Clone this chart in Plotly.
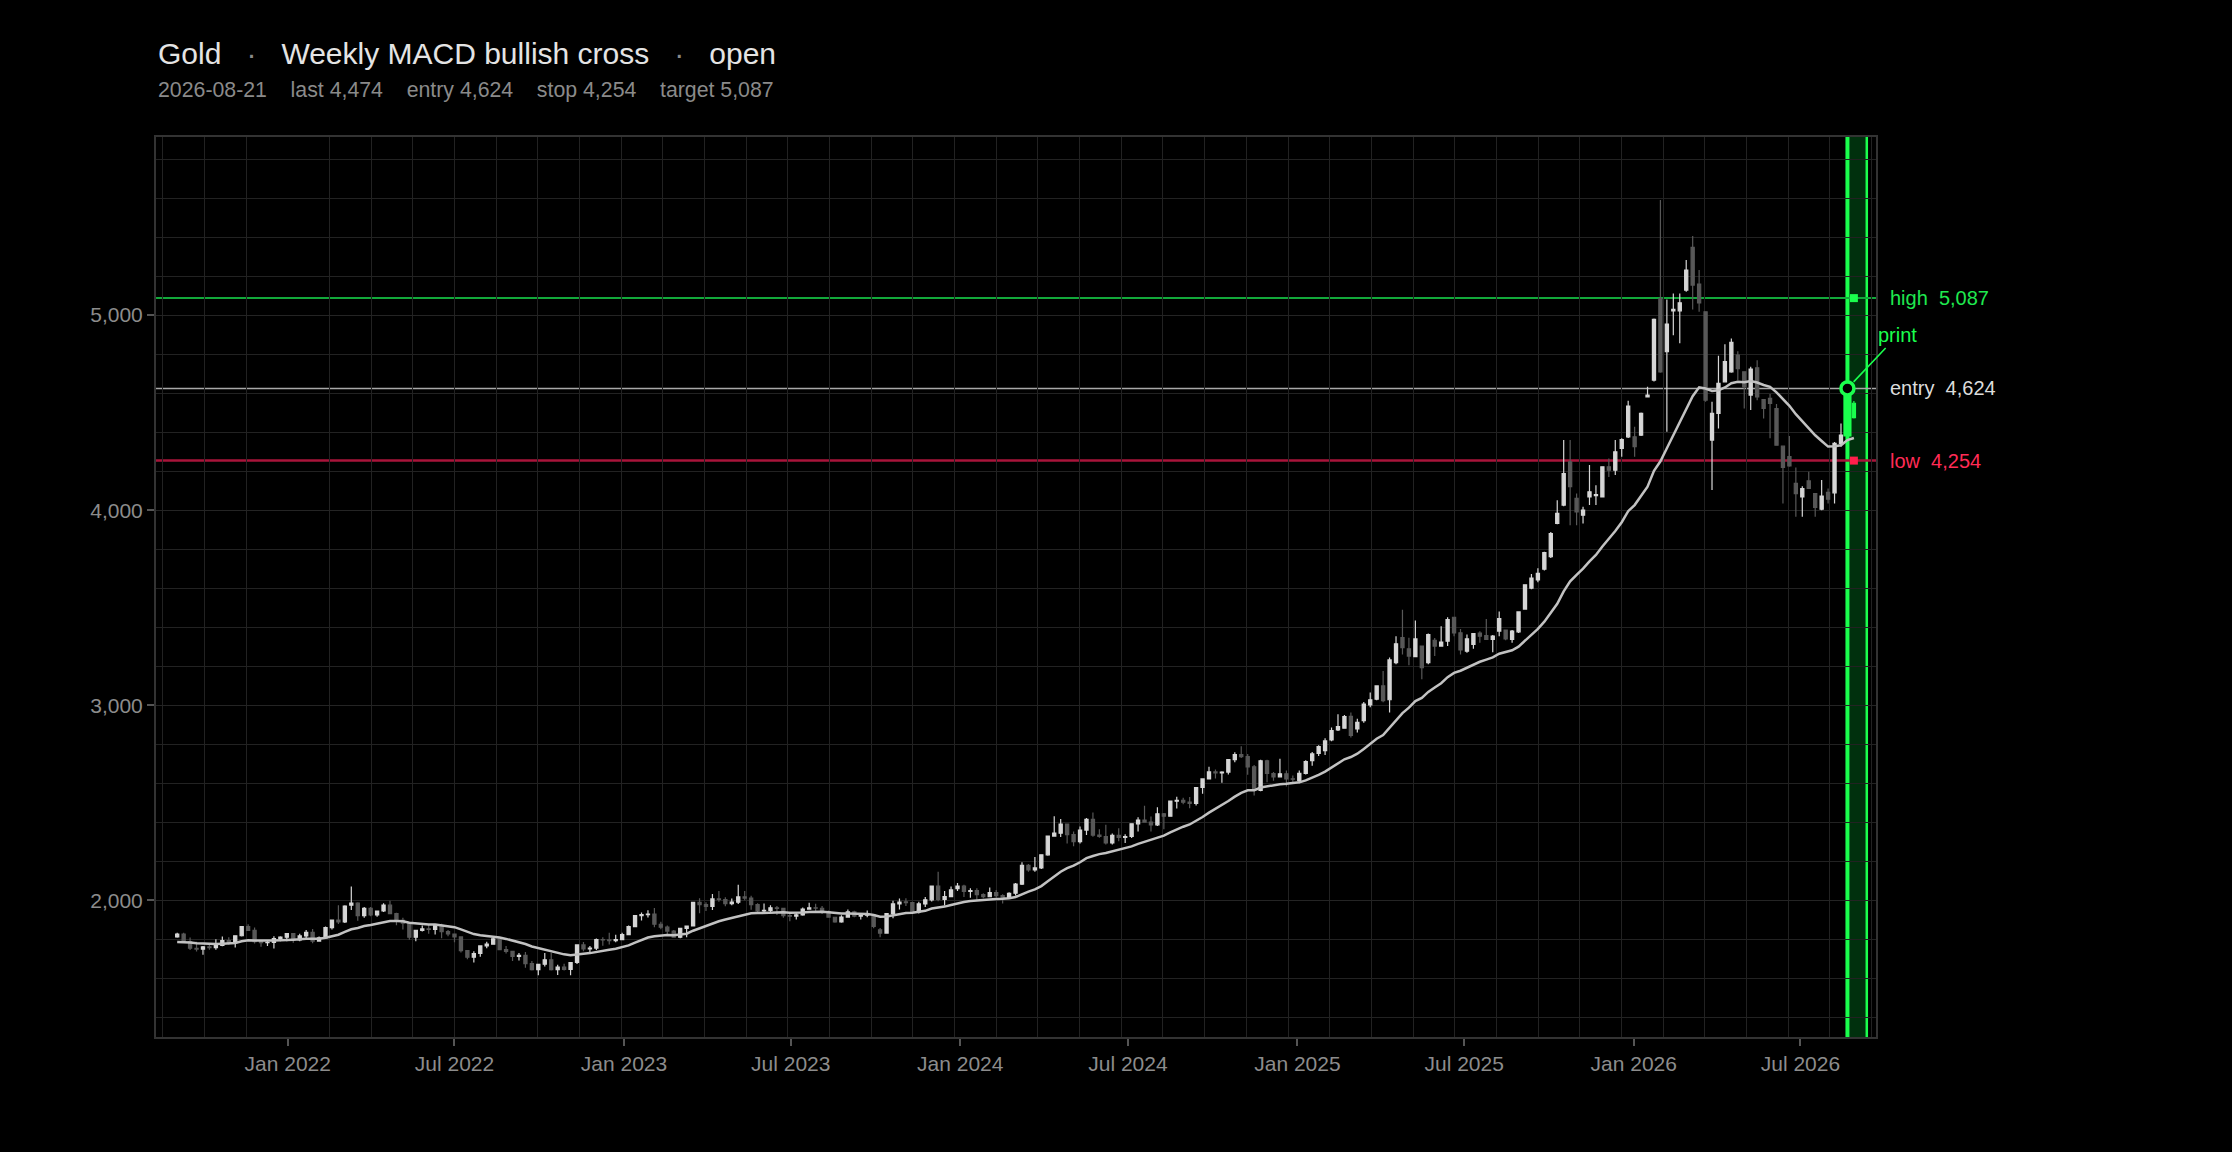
import pandas as pd
import plotly.graph_objects as go

# Weekly gold bars (Friday closes), first bar 2021-09-03, last bar 2026-08-28
first_week = "2021-09-03"

opens = [
    # 2021
    1812, 1827, 1788, 1754, 1750, 1761, 1757, 1768, 1793, 1783, 1818, 1865, 1846, 1788, 1783, 1784, 1804, 1811,
    # 2022
    1829, 1797, 1817, 1835, 1791, 1807, 1860, 1898, 1889, 1975, 1985, 1921, 1958, 1925, 1945, 1975, 1932, 1897,
    1883, 1811, 1846, 1853, 1850, 1871, 1839, 1827, 1812, 1742, 1708, 1727, 1766, 1775, 1802, 1747, 1738, 1712,
    1717, 1675, 1644, 1672, 1695, 1644, 1657, 1645, 1681, 1771, 1751, 1755, 1798, 1797, 1793, 1798,
    # 2023
    1824, 1865, 1921, 1926, 1929, 1877, 1862, 1842, 1811, 1856, 1868, 1989, 1978, 1969, 2007, 2004, 1983, 1990,
    2017, 2011, 1978, 1946, 1948, 1961, 1958, 1921, 1919, 1925, 1955, 1961, 1959, 1942, 1913, 1889, 1914, 1940,
    1919, 1924, 1925, 1848, 1832, 1932, 1981, 1992, 1988, 1940, 1981, 2002, 2072, 2004, 2019, 2060,
    # 2024
    2072, 2045, 2049, 2029, 2018, 2039, 2024, 2013, 2036, 2083, 2179, 2156, 2166, 2233, 2329, 2344, 2391, 2337,
    2301, 2360, 2415, 2334, 2327, 2294, 2333, 2322, 2327, 2392, 2411, 2401, 2387, 2443, 2431, 2508, 2512, 2503,
    2497, 2578, 2622, 2658, 2653, 2657, 2721, 2747, 2736, 2684, 2563, 2715, 2650, 2633, 2648, 2622,
    # 2025
    2614, 2651, 2716, 2753, 2767, 2822, 2873, 2882, 2943, 2878, 2921, 3001, 3031, 3099, 3028, 3218, 3346, 3289,
    3249, 3303, 3218, 3333, 3303, 3328, 3451, 3371, 3277, 3312, 3370, 3357, 3337, 3380, 3385, 3337, 3376, 3493,
    3600, 3642, 3697, 3761, 3932, 4026, 4248, 4060, 3974, 4068, 4074, 4068, 4222, 4205, 4316, 4376,
    # 2026
    4376, 4385, 4581, 4667, 5085, 4812, 5022, 5022, 5128, 5347, 5159, 5017, 4359, 4496, 4658, 4709, 4795, 4709,
    4590, 4730, 4567, 4573, 4521, 4328, 4274, 4137, 4068, 4150, 4085, 4005, 4091, 4089, 4342, 4391, 4548,
]

highs = [
    # 2021
    1834, 1834, 1809, 1787, 1765, 1781, 1800, 1814, 1810, 1818, 1868, 1877, 1860, 1792, 1792, 1815, 1815, 1831,
    # 2022
    1830, 1828, 1848, 1853, 1814, 1865, 1902, 1974, 1974, 2070, 1990, 1966, 1966, 1948, 1985, 1998, 1936, 1910,
    1885, 1849, 1870, 1874, 1877, 1879, 1847, 1830, 1814, 1745, 1739, 1767, 1787, 1807, 1802, 1765, 1740, 1730,
    1735, 1688, 1675, 1730, 1730, 1670, 1675, 1682, 1775, 1786, 1765, 1804, 1810, 1834, 1823, 1833,
    # 2023
    1870, 1922, 1937, 1949, 1960, 1890, 1870, 1848, 1858, 1870, 1989, 2010, 1990, 2032, 2048, 2015, 2009, 2079,
    2048, 2023, 1985, 1983, 1975, 1971, 1959, 1930, 1935, 1963, 1987, 1982, 1970, 1948, 1916, 1923, 1953, 1946,
    1933, 1947, 1927, 1858, 1933, 1997, 2009, 2010, 1992, 1993, 2017, 2075, 2146, 2047, 2070, 2088,
    # 2024
    2079, 2062, 2062, 2036, 2065, 2052, 2031, 2041, 2088, 2195, 2186, 2222, 2236, 2330, 2431, 2417, 2392, 2352,
    2378, 2422, 2450, 2364, 2387, 2342, 2369, 2339, 2392, 2425, 2484, 2429, 2477, 2448, 2509, 2531, 2525, 2529,
    2579, 2626, 2685, 2670, 2661, 2722, 2759, 2790, 2750, 2694, 2721, 2721, 2658, 2726, 2665, 2639,
    # 2025
    2665, 2718, 2760, 2795, 2830, 2886, 2954, 2950, 2963, 2930, 3017, 3065, 3100, 3176, 3245, 3354, 3490, 3346,
    3434, 3303, 3368, 3345, 3405, 3451, 3452, 3391, 3362, 3367, 3379, 3442, 3360, 3481, 3388, 3385, 3480, 3620,
    3673, 3702, 3787, 3888, 4051, 4359, 4359, 4085, 4017, 4231, 4128, 4225, 4265, 4359, 4368, 4561,
    # 2026
    4427, 4500, 4632, 4983, 5590, 5080, 5111, 5111, 5282, 5405, 5231, 5020, 4556, 4791, 4851, 4880, 4815, 4712,
    4735, 4769, 4570, 4595, 4544, 4330, 4380, 4219, 4123, 4197, 4088, 4154, 4111, 4350, 4444, 4624, 4560,
]

lows = [
    # 2021
    1808, 1782, 1745, 1737, 1721, 1746, 1746, 1764, 1772, 1758, 1814, 1843, 1778, 1762, 1766, 1753, 1790, 1790,
    # 2022
    1782, 1790, 1806, 1780, 1788, 1805, 1850, 1878, 1883, 1950, 1895, 1910, 1918, 1915, 1940, 1930, 1872, 1850,
    1798, 1790, 1840, 1828, 1825, 1805, 1816, 1785, 1732, 1697, 1681, 1711, 1754, 1772, 1745, 1727, 1688, 1691,
    1654, 1640, 1615, 1660, 1640, 1617, 1640, 1616, 1673, 1739, 1733, 1745, 1767, 1773, 1785, 1795,
    # 2023
    1822, 1862, 1896, 1912, 1862, 1852, 1818, 1809, 1805, 1810, 1866, 1934, 1945, 1950, 1992, 1969, 1974, 1981,
    2000, 1952, 1936, 1932, 1940, 1925, 1910, 1893, 1902, 1921, 1955, 1942, 1929, 1910, 1885, 1885, 1912, 1913,
    1901, 1913, 1857, 1810, 1832, 1908, 1953, 1970, 1931, 1932, 1965, 1994, 1995, 1973, 2016, 2047,
    # 2024
    2017, 2013, 2002, 2010, 2016, 2015, 1984, 2009, 2024, 2078, 2146, 2146, 2160, 2228, 2325, 2324, 2291, 2277,
    2291, 2334, 2325, 2320, 2286, 2286, 2302, 2293, 2319, 2352, 2398, 2353, 2381, 2364, 2430, 2471, 2492, 2472,
    2486, 2546, 2620, 2624, 2603, 2645, 2708, 2729, 2643, 2537, 2559, 2605, 2613, 2630, 2583, 2601,
    # 2025
    2600, 2645, 2690, 2740, 2745, 2815, 2868, 2880, 2835, 2860, 2910, 2990, 3025, 3015, 2963, 3210, 3260, 3205,
    3249, 3133, 3210, 3252, 3300, 3303, 3354, 3260, 3269, 3290, 3320, 3335, 3272, 3354, 3333, 3320, 3370, 3490,
    3595, 3630, 3690, 3755, 3928, 4020, 3923, 3923, 3932, 4026, 4026, 4065, 4170, 4180, 4274, 4370,
    # 2026
    4274, 4380, 4578, 4660, 4704, 4402, 4897, 4855, 5120, 5029, 5017, 4556, 4103, 4419, 4655, 4705, 4667, 4521,
    4513, 4564, 4470, 4368, 4330, 4034, 4222, 3966, 3966, 4108, 3966, 4000, 4034, 4034, 4325, 4385, 4470,
]

closes = [
    # 2021
    1827, 1788, 1754, 1750, 1761, 1757, 1768, 1793, 1783, 1818, 1865, 1846, 1788, 1783, 1784, 1804, 1811, 1829,
    # 2022
    1797, 1817, 1835, 1791, 1807, 1860, 1898, 1889, 1970, 1985, 1921, 1958, 1925, 1945, 1975, 1932, 1897, 1883,
    1811, 1846, 1853, 1850, 1871, 1839, 1827, 1812, 1742, 1708, 1727, 1766, 1775, 1802, 1747, 1738, 1712, 1717,
    1675, 1644, 1672, 1695, 1644, 1657, 1645, 1681, 1771, 1751, 1755, 1798, 1797, 1793, 1798, 1824,
    # 2023
    1865, 1921, 1926, 1929, 1877, 1862, 1842, 1811, 1856, 1868, 1989, 1978, 1969, 2007, 2004, 1983, 1990, 2017,
    2011, 1978, 1946, 1948, 1961, 1958, 1921, 1919, 1925, 1955, 1961, 1959, 1942, 1913, 1889, 1914, 1940, 1919,
    1924, 1925, 1866, 1832, 1932, 1981, 1990, 1988, 1940, 1981, 2002, 2072, 2004, 2019, 2053, 2072,
    # 2024
    2045, 2049, 2029, 2018, 2039, 2024, 2013, 2036, 2083, 2179, 2156, 2166, 2233, 2329, 2344, 2391, 2337, 2301,
    2360, 2415, 2334, 2327, 2294, 2333, 2322, 2327, 2392, 2411, 2401, 2387, 2443, 2431, 2508, 2512, 2503, 2497,
    2578, 2622, 2658, 2653, 2657, 2721, 2747, 2736, 2684, 2563, 2715, 2650, 2633, 2648, 2622, 2621,
    # 2025
    2651, 2711, 2750, 2788, 2817, 2870, 2890, 2942, 2845, 2912, 3006, 3028, 3099, 3023, 3232, 3315, 3295, 3252,
    3340, 3193, 3362, 3303, 3323, 3439, 3371, 3283, 3340, 3367, 3354, 3337, 3354, 3444, 3340, 3380, 3478, 3617,
    3651, 3676, 3782, 3880, 3983, 4188, 4120, 3991, 4000, 4094, 4080, 4222, 4205, 4299, 4362, 4533,
    # 2026
    4325, 4496, 4590, 4978, 4709, 4954, 5029, 5063, 5231, 5154, 5063, 4564, 4496, 4650, 4761, 4860, 4726, 4632,
    4723, 4581, 4521, 4547, 4333, 4219, 4227, 4085, 4111, 4111, 4014, 4072, 4056, 4342, 4385, 4607, 4474,
]

ema_start = 1786      # 20-week EMA on the first bar
ema_span = 20

instrument = "Gold"
setup = "Weekly MACD bullish cross"
status = "open"
signal_week = "2026-08-21"
window_end = "2026-09-11"
last = 4474
entry = 4624
stop = 4254
target = 5087

GREEN = "#1aff4d"
LINE_GREEN = "#12a83a"
RED_LINE = "#a8143a"
RED_TXT = "#ff2b55"
UP = "#d6d6d6"
DOWN = "#585858"
FONT = "Liberation Sans, Arial, Helvetica, sans-serif"

dates = pd.date_range(first_week, periods=len(closes), freq="7D")
sig = dates.get_loc(pd.Timestamp(signal_week))

alpha = 2 / (ema_span + 1)
ema = [ema_start]
for c in closes[1:]:
    ema.append(ema[-1] + alpha * (c - ema[-1]))

fig = go.Figure()

fig.add_trace(go.Candlestick(
    x=dates[:sig], open=opens[:sig], high=highs[:sig], low=lows[:sig], close=closes[:sig],
    increasing=dict(line=dict(color=UP, width=1.2), fillcolor=UP),
    decreasing=dict(line=dict(color=DOWN, width=1.2), fillcolor=DOWN),
    whiskerwidth=0, hoverinfo="skip", showlegend=False))

# signal bar, drawn wide
fig.add_trace(go.Candlestick(
    x=dates[sig:sig + 1], open=opens[sig:sig + 1], high=highs[sig:sig + 1],
    low=lows[sig:sig + 1], close=closes[sig:sig + 1],
    increasing=dict(line=dict(color=GREEN, width=5), fillcolor=GREEN),
    decreasing=dict(line=dict(color=GREEN, width=5), fillcolor=GREEN),
    whiskerwidth=0, hoverinfo="skip", showlegend=False))

fig.add_trace(go.Candlestick(
    x=dates[sig + 1:], open=opens[sig + 1:], high=highs[sig + 1:],
    low=lows[sig + 1:], close=closes[sig + 1:],
    increasing=dict(line=dict(color=GREEN, width=1.2), fillcolor=GREEN),
    decreasing=dict(line=dict(color=GREEN, width=1.2), fillcolor=GREEN),
    whiskerwidth=0, hoverinfo="skip", showlegend=False))

fig.add_trace(go.Scatter(x=dates, y=ema, mode="lines", line=dict(color="#c2c2c2", width=2.5),
                         hoverinfo="skip", showlegend=False))

# target / stop markers
fig.add_trace(go.Scatter(x=[dates[-1], dates[-1]], y=[target, stop], mode="markers",
                         marker=dict(symbol="square", size=8, color=[GREEN, "#ff1f4b"]),
                         hoverinfo="skip", showlegend=False))

# entry print
fig.add_trace(go.Scatter(x=[dates[sig]], y=[entry], mode="markers",
                         marker=dict(symbol="circle", size=13, color="#000000",
                                     line=dict(color=GREEN, width=3.5)),
                         hoverinfo="skip", showlegend=False))

shapes = [
    dict(type="rect", xref="x", yref="paper", x0=signal_week, x1=window_end, y0=0, y1=1,
         fillcolor="rgba(0,255,70,0.19)", line=dict(width=0), layer="between"),
    dict(type="line", xref="x", yref="paper", x0=window_end, x1=window_end, y0=0, y1=1,
         line=dict(color=GREEN, width=2.5), layer="between"),
    dict(type="line", xref="x", yref="paper", x0=signal_week, x1=signal_week, y0=0, y1=1,
         line=dict(color=GREEN, width=4), layer="between"),
    dict(type="line", xref="paper", yref="y", x0=0, x1=1, y0=target, y1=target,
         line=dict(color=LINE_GREEN, width=2), layer="between"),
    dict(type="line", xref="paper", yref="y", x0=0, x1=1, y0=entry, y1=entry,
         line=dict(color="#a8a8a8", width=1.5), layer="between"),
    dict(type="line", xref="paper", yref="y", x0=0, x1=1, y0=stop, y1=stop,
         line=dict(color=RED_LINE, width=2.5), layer="between"),
]

sp = "\u00a0"
annotations = [
    dict(xref="paper", yref="y", x=1, y=target, xanchor="left", yanchor="middle", xshift=12,
         text=f"high{sp*2}{target:,}", showarrow=False, font=dict(color="#1fe84f", size=20)),
    dict(xref="paper", yref="y", x=1, y=entry, xanchor="left", yanchor="middle", xshift=12,
         text=f"entry{sp*2}{entry:,}", showarrow=False, font=dict(color="#dcdcdc", size=20)),
    dict(xref="paper", yref="y", x=1, y=stop, xanchor="left", yanchor="middle", xshift=12,
         text=f"low{sp*2}{stop:,}", showarrow=False, font=dict(color=RED_TXT, size=20)),
    dict(xref="x", yref="y", x=signal_week, y=entry, ax=50, ay=-53, text="print",
         showarrow=True, arrowhead=0, arrowwidth=1.6, arrowcolor=GREEN, standoff=9,
         font=dict(color=GREEN, size=20)),
    dict(xref="paper", yref="paper", x=0, y=1.093, xanchor="left", yanchor="middle", showarrow=False,
         text=(f"{instrument}{sp*3}<span style='color:#8a8a8a'>·</span>{sp*3}{setup}"
               f"{sp*3}<span style='color:#8a8a8a'>·</span>{sp*3}{status}"),
         font=dict(color="#e4e4e4", size=30)),
    dict(xref="paper", yref="paper", x=0, y=1.052, xanchor="left", yanchor="middle", showarrow=False,
         text=(f"{signal_week}{sp*4}last {last:,}{sp*4}entry {entry:,}"
               f"{sp*4}stop {stop:,}{sp*4}target {target:,}"),
         font=dict(color="#8a8a8a", size=21.3)),
]

fig.update_layout(
    width=2232, height=1152,
    margin=dict(l=156, r=356, t=137, b=115),
    paper_bgcolor="#000000", plot_bgcolor="#000000",
    font=dict(family=FONT, color="#8c8c8c", size=21),
    shapes=shapes, annotations=annotations,
    showlegend=False, hovermode=False,
)

fig.update_xaxes(
    type="date", range=["2021-08-11", "2026-09-21"],
    dtick="M6", tick0="2022-01-01", tickformat="%b %Y",
    showgrid=False, zeroline=False,
    ticks="outside", ticklen=7, tickwidth=1.5, tickcolor="#555555",
    tickfont=dict(size=21, color="#8c8c8c"),
    showline=True, linecolor="#333333", linewidth=2, mirror=True,
    minor=dict(dtick=45.24 * 86400000, tick0="2022-01-01", showgrid=True,
               gridcolor="#222222", gridwidth=1),
    rangeslider=dict(visible=False),
)

fig.update_yaxes(
    range=[1299, 5913], dtick=1000, tickformat=",",
    showgrid=True, gridcolor="#242424", gridwidth=1, zeroline=False,
    ticks="outside", ticklen=7, tickwidth=1.5, tickcolor="#555555",
    tickfont=dict(size=21, color="#8c8c8c"),
    showline=True, linecolor="#333333", linewidth=2, mirror=True,
    minor=dict(dtick=200, showgrid=True, gridcolor="#222222", gridwidth=1),
)

fig.write_html(
    "out.html",
    config={"displayModeBar": False},
    post_script="document.body.style.margin='0';document.body.style.background='#000';"
                "document.documentElement.style.background='#000';",
)
